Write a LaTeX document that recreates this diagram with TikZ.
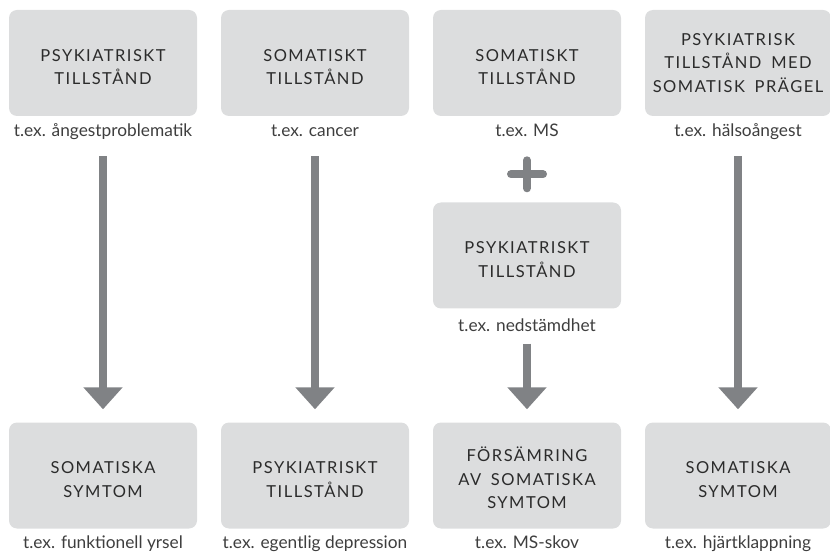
\documentclass[tikz,border=0pt]{standalone}
\usepackage{fontspec}
\setmainfont{Lato}
\usetikzlibrary{arrows.meta}
\definecolor{boxgray}{HTML}{DCDDDE}
\definecolor{arrowgray}{HTML}{808285}
\definecolor{textdark}{HTML}{2B2B2B}
\definecolor{captext}{HTML}{3E3E3E}
\newfontfamily\headfont[LetterSpace=9,WordSpace=1.7]{Lato}
\newfontfamily\capfont{Lato}
% first-line strut keeps the capitals a little below the box centre
\newcommand\firstline{\rule{0pt}{20pt}}
\newcommand\firstlinetall{\rule{0pt}{12pt}}
\tikzset{
  box/.style={fill=boxgray, rounded corners=8pt, minimum width=188pt, minimum height=106pt,
    inner sep=0pt, align=center, text=textdark, font=\headfont\fontsize{16.5}{23.5}\selectfont},
  caption/.style={inner sep=0pt, text=captext, font=\capfont\fontsize{17.3}{20}\selectfont},
  flow/.style={draw=arrowgray, line width=8pt,
    -{Triangle[width=38pt,length=22pt]}},
  plus/.style={draw=arrowgray, line width=8pt, line cap=round}
}
\begin{document}
\begin{tikzpicture}[x=1pt,y=-1pt]
\useasboundingbox (0,0) rectangle (830,553);
% top row
\node[box] (t1) at (103,63) {\firstline PSYKIATRISKT\\TILLSTÅND};
\node[box] (t2) at (315,63) {\firstline SOMATISKT\\TILLSTÅND};
\node[box] (t3) at (527,63) {\firstline SOMATISKT\\TILLSTÅND};
\node[box, minimum width=186pt] (t4) at (738,63) {\firstlinetall PSYKIATRISK\\TILLSTÅND MED\\SOMATISK PRÄGEL};
\node[caption, anchor=base] (c1) at (103,137) {t.ex. ångestproblematik};
\node[caption, anchor=base] (c2) at (315,137) {t.ex. cancer};
\node[caption, anchor=base] (c3) at (527,137) {t.ex. MS};
\node[caption, anchor=base] (c4) at (738,137) {t.ex. hälsoångest};
% middle of column three
\node[box] (m3) at (527,255.5) {\firstline PSYKIATRISKT\\TILLSTÅND};
\node[caption, anchor=base] (mc3) at (527,331) {t.ex. nedstämdhet};
% bottom row
\node[box] (b1) at (103,475.5) {\firstline SOMATISKA\\SYMTOM};
\node[box] (b2) at (315,475.5) {\firstline PSYKIATRISKT\\TILLSTÅND};
\node[box] (b3) at (527,475.5) {\firstline FÖRSÄMRING\\AV SOMATISKA\\SYMTOM};
\node[box, minimum width=186pt] (b4) at (738,475.5) {\firstline SOMATISKA\\SYMTOM};
\node[caption, anchor=base] (bc1) at (103,548) {t.ex. funktionell yrsel};
\node[caption, anchor=base] (bc2) at (315,548) {t.ex. egentlig depression};
\node[caption, anchor=base] (bc3) at (527,548) {t.ex. MS-skov};
\node[caption, anchor=base] (bc4) at (738,548) {t.ex. hjärtklappning};
% plus sign between the two conditions
\draw[plus] ([yshift=28pt]m3.north) ++(-16,0) -- ++(32,0);
\draw[plus] ([yshift=28pt]m3.north) ++(0,-14) -- ++(0,28);
% arrows
\draw[flow, shorten <=40pt, shorten >=13pt] (t1.south) -- (b1.north);
\draw[flow, shorten <=40pt, shorten >=13pt] (t2.south) -- (b2.north);
\draw[flow, shorten <=40pt, shorten >=13pt] (t4.south) -- (b4.north);
\draw[flow, shorten <=35pt, shorten >=13pt] (m3.south) -- (b3.north);
\end{tikzpicture}
\end{document}
